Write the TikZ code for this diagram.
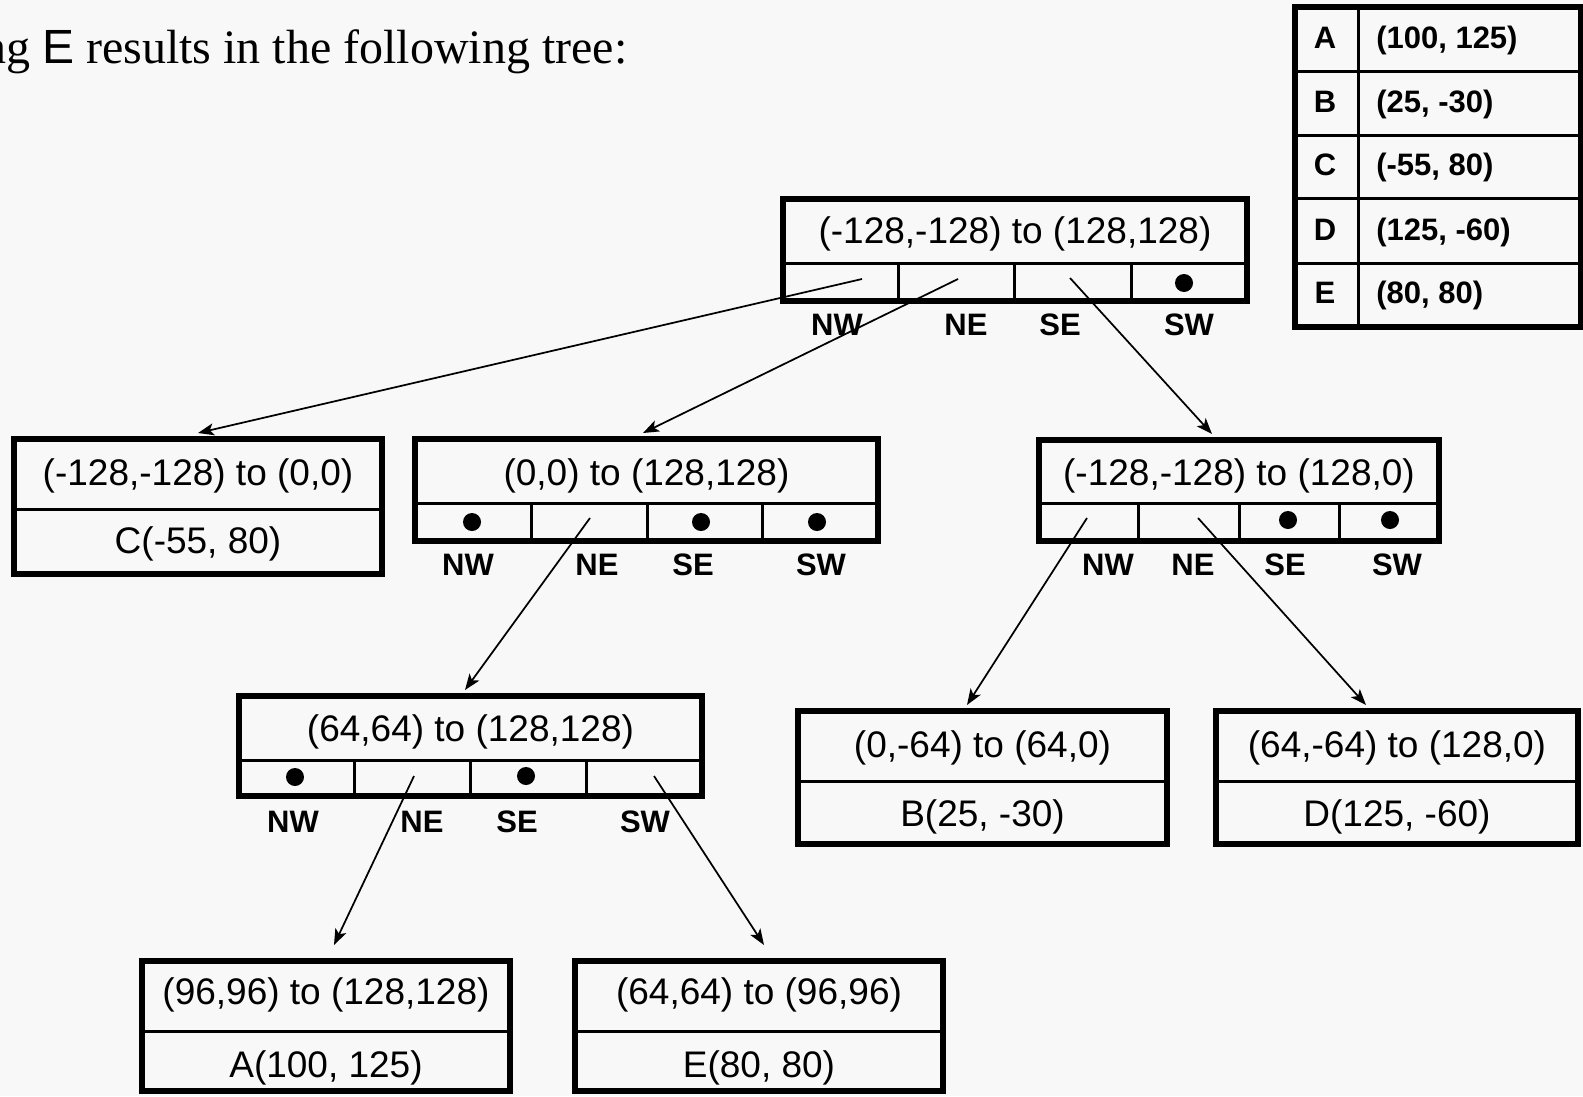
\documentclass[tikz,border=0pt]{standalone}
\usepackage{fontspec}
\setmainfont{Liberation Serif}
\setsansfont{Liberation Sans}
\usetikzlibrary{arrows.meta,calc}
\definecolor{bgc}{HTML}{F8F8F8}
\begin{document}
\begin{tikzpicture}[x=0.75pt,y=-0.75pt,
  qbox/.style 2 args={draw, line width=4.5pt, minimum width={(#1)*0.75pt}, minimum height={(#2)*0.75pt}, inner sep=0pt},
  thinl/.style={line width=2.25pt},
  txt/.style={font=\sffamily\fontsize{27.75}{30}\selectfont, inner sep=0pt},
  lbl/.style={font=\sffamily\bfseries\fontsize{23.25}{26}\selectfont, inner sep=0pt},
  tbl/.style={font=\sffamily\bfseries\fontsize{23.25}{26}\selectfont, inner sep=0pt},
  dot/.style={circle, fill=black, inner sep=0pt, minimum size=13.5pt},
  arr/.style={line width=1.3pt, -{Stealth[length=12pt,width=9pt,inset=3pt]}}]
\fill[bgc] (0,0) rectangle (1583,1096);
\useasboundingbox (0,0) rectangle (1583,1096);

% title
\node[anchor=base west, inner sep=0pt, font=\fontsize{36}{40}\selectfont] (title) at (-18,63) {ng {\sffamily E} results in the following tree:};

% table
\node[qbox={286}{320}] (tab) at (1437.5,167) {};
\foreach \yy in {71,135,198,263} \draw[thinl] (1294.5,\yy) -- (1580.5,\yy);
\draw[thinl] (1358,7) -- (1358,327);
\foreach \l/\v/\b [count=\i] in {A/{(100, 125)}/48, B/{(25, -30)}/112, C/{(-55, 80)}/175, D/{(125, -60)}/240, E/{(80, 80)}/303} {
  \node[tbl, anchor=base] (tl\i) at (1325,\b) {\l};
  \node[tbl, anchor=base west] (tv\i) at (1376,\b) {\v};
}

% root
\node[qbox={464}{102}] (root) at (1015,250) {};
\draw[thinl] (783,263) -- (1247,263);
\foreach \xx in {898,1014,1131} \draw[thinl] (\xx,263) -- (\xx,301);
\node[txt] (rootT) at (1015,234) {(-128,-128) to (128,128)};
\node[dot] (rootSWd) at (1184,283) {};
\node[lbl] (rNW) at (837,325) {NW};
\node[lbl] (rNE) at (966,325) {NE};
\node[lbl] (rSE) at (1060,325) {SE};
\node[lbl] (rSW) at (1189,325) {SW};

% C leaf
\node[qbox={368}{135}] (cbox) at (198,506.5) {};
\draw[thinl] (14,509) -- (382,509);
\node[txt] (cT) at (198,476) {(-128,-128) to (0,0)};
\node[txt] (cP) at (198,544) {C(-55, 80)};

% (0,0) to (128,128)
\node[qbox={463}{102}] (zbox) at (646.5,490) {};
\draw[thinl] (415,503) -- (878,503);
\foreach \xx in {531,647,762} \draw[thinl] (\xx,503) -- (\xx,541);
\node[txt] (zT) at (646.5,476) {(0,0) to (128,128)};
\node[dot] (zNWd) at (472,522) {};
\node[dot] (zSEd) at (701,522) {};
\node[dot] (zSWd) at (817,522) {};
\node[lbl] (zNW) at (468,565) {NW};
\node[lbl] (zNE) at (597,565) {NE};
\node[lbl] (zSE) at (693,565) {SE};
\node[lbl] (zSW) at (821,565) {SW};

% (-128,-128) to (128,0)
\node[qbox={400}{101}] (sbox) at (1239,490.5) {};
\draw[thinl] (1039,503) -- (1439,503);
\foreach \xx in {1138,1239,1339} \draw[thinl] (\xx,503) -- (\xx,541);
\node[txt] (sT) at (1239,476) {(-128,-128) to (128,0)};
\node[dot] (sSEd) at (1288,520) {};
\node[dot] (sSWd) at (1390,520) {};
\node[lbl] (sNW) at (1108,565) {NW};
\node[lbl] (sNE) at (1193,565) {NE};
\node[lbl] (sSE) at (1285,565) {SE};
\node[lbl] (sSW) at (1397,565) {SW};

% (64,64) to (128,128)
\node[qbox={463}{100}] (mbox) at (470.5,746) {};
\draw[thinl] (239,760) -- (702,760);
\foreach \xx in {354,470,586} \draw[thinl] (\xx,760) -- (\xx,796);
\node[txt] (mT) at (470.5,732) {(64,64) to (128,128)};
\node[dot] (mNWd) at (295,777) {};
\node[dot] (mSEd) at (526,776) {};
\node[lbl] (mNW) at (293,822) {NW};
\node[lbl] (mNE) at (422,822) {NE};
\node[lbl] (mSE) at (517,822) {SE};
\node[lbl] (mSW) at (645,822) {SW};

% B leaf
\node[qbox={369}{133}] (bbox) at (982.5,777.5) {};
\draw[thinl] (798,781) -- (1167,781);
\node[txt] (bT) at (982.5,748) {(0,-64) to (64,0)};
\node[txt] (bP) at (982.5,817) {B(25, -30)};

% D leaf
\node[qbox={362}{133}] (dbox) at (1397,777.5) {};
\draw[thinl] (1216,781) -- (1578,781);
\node[txt] (dT) at (1397,748) {(64,-64) to (128,0)};
\node[txt] (dP) at (1397,817) {D(125, -60)};

% A leaf
\node[qbox={368}{130}] (abox) at (326,1026) {};
\draw[thinl] (142,1031) -- (510,1031);
\node[txt] (aT) at (326,995) {(96,96) to (128,128)};
\node[txt] (aP) at (326,1068) {A(100, 125)};

% E leaf
\node[qbox={368}{130}] (ebox) at (759,1026) {};
\draw[thinl] (575,1031) -- (943,1031);
\node[txt] (eT) at (759,995) {(64,64) to (96,96)};
\node[txt] (eP) at (759,1068) {E(80, 80)};

% connector start points
\coordinate (rNWs) at (862,279);
\coordinate (rNEs) at (958,279);
\coordinate (rSEs) at (1070,278);
\coordinate (zNEs) at (590,518);
\coordinate (sNWs) at (1087,518);
\coordinate (sNEs) at (1198,518);
\coordinate (mNEs) at (414,776);
\coordinate (mSWs) at (654,776);

\draw[arr] (rNWs) -- ($(cbox.north)+(0,-3)$);
\draw[arr] (rNEs) -- ($(zbox.north)+(-3.5,-3)$);
\draw[arr] (rSEs) -- ($(sbox.north)+(-27,-3)$);
\draw[arr] (zNEs) -- ($(mbox.north)+(-5.5,-3)$);
\draw[arr] (sNWs) -- ($(bbox.north)+(-15.5,-3)$);
\draw[arr] (sNEs) -- ($(dbox.north)+(-31,-3)$);
\draw[arr] (mNEs) -- ($(abox.north)+(8,-13)$);
\draw[arr] (mSWs) -- ($(ebox.north)+(5,-13)$);
\end{tikzpicture}
\end{document}
